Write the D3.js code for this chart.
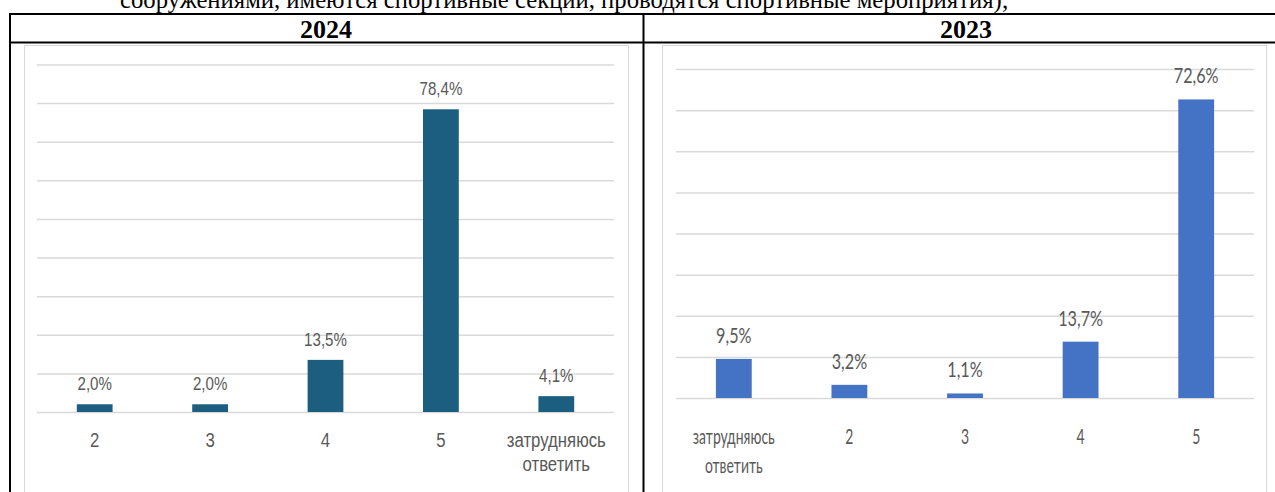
<!DOCTYPE html>
<html>
<head>
<meta charset="utf-8">
<script src="https://cdn.jsdelivr.net/npm/d3@7"></script>
<style>
  html, body { margin: 0; padding: 0; background: #fff; }
  svg { display: block; }
</style>
</head>
<body>
<svg id="page" width="1275" height="492"></svg>
<script>
// Survey answers: rating of sports infrastructure, share of respondents (%)
const categories2024 = ["2", "3", "4", "5", "затрудняюсь ответить"];
const values2024 = [2.0, 2.0, 13.5, 78.4, 4.1];

const categories2023 = ["затрудняюсь ответить", "2", "3", "4", "5"];
const values2023 = [9.5, 3.2, 1.1, 13.7, 72.6];

const yTicks2024 = [0, 10, 20, 30, 40, 50, 60, 70, 80, 90];
const yTicks2023 = [0, 10, 20, 30, 40, 50, 60, 70, 80];

const headerLine = "сооружениями, имеются спортивные секции, проводятся спортивные мероприятия);";
const years = ["2024", "2023"];

const svg = d3.select("#page");
const fmt = v => d3.format(".1f")(v).replace(".", ",") + "%";

// Sentence fragment above the table
svg.append("text")
  .attr("x", 120).attr("y", 8)
  .attr("font-family", "Liberation Serif, Times New Roman, serif")
  .attr("font-size", 24.7)
  .attr("fill", "#000")
  .text(headerLine);

// Table grid
const tableLines = [
  [9, 14, 1290, 14],
  [9, 42.5, 1290, 42.5],
  [10, 13, 10, 492],
  [643.5, 13, 643.5, 492]
];
svg.selectAll("line.table").data(tableLines).join("line")
  .attr("class", "table")
  .attr("x1", d => d[0]).attr("y1", d => d[1])
  .attr("x2", d => d[2]).attr("y2", d => d[3])
  .attr("stroke", "#000").attr("stroke-width", 2);

svg.selectAll("text.year").data(years).join("text")
  .attr("class", "year")
  .attr("x", (d, i) => i === 0 ? 326 : 966)
  .attr("y", 37.5)
  .attr("text-anchor", "middle")
  .attr("font-family", "Liberation Serif, Times New Roman, serif")
  .attr("font-weight", "bold")
  .attr("font-size", 26)
  .text(d => d);

function drawChart(opts) {
  const g = svg.append("g");

  // chart area frame
  g.append("rect")
    .attr("x", opts.frame[0] + 0.5).attr("y", 45.5)
    .attr("width", opts.frame[1] - opts.frame[0]).attr("height", 470)
    .attr("fill", "#fff").attr("stroke", "#d9d9d9");

  const x = d3.scaleBand()
    .domain(opts.categories)
    .range(opts.xRange)
    .paddingInner(0.69)
    .paddingOuter(0.345);

  const y = d3.scaleLinear()
    .domain([0, d3.max(opts.ticks)])
    .range(opts.yRange);

  // horizontal gridlines
  g.append("g")
    .attr("transform", `translate(${opts.xRange[0]},0)`)
    .call(d3.axisLeft(y).tickValues(opts.ticks)
      .tickSize(-(opts.xRange[1] - opts.xRange[0])).tickFormat(""))
    .call(a => a.select(".domain").remove())
    .call(a => a.selectAll("line").attr("stroke", "#d9d9d9").attr("stroke-width", 1.5));

  // bars
  g.selectAll("rect.bar").data(opts.values).join("rect")
    .attr("class", "bar")
    .attr("x", (d, i) => x(opts.categories[i]))
    .attr("width", x.bandwidth())
    .attr("y", d => y(d))
    .attr("height", d => y(0) - y(d))
    .attr("fill", opts.color);

  // value labels
  g.selectAll("text.val").data(opts.values).join("text")
    .attr("class", "val")
    .attr("transform", (d, i) =>
      `translate(${x(opts.categories[i]) + x.bandwidth() / 2},${y(d) - opts.labelGap}) scale(${opts.valSqueeze},1)`)
    .attr("text-anchor", "middle")
    .attr("font-family", opts.font)
    .attr("font-size", opts.valSize)
    .attr("fill", "#595959")
    .text(d => fmt(d));

  // category axis labels
  const xa = g.append("g")
    .attr("transform", `translate(0,${opts.yRange[0]})`)
    .call(d3.axisBottom(x).tickSize(0).tickFormat(""));
  xa.select(".domain").remove();

  xa.selectAll(".tick").each(function (d) {
    const words = d.split(" ");
    const t = d3.select(this).append("text")
      .attr("transform", `translate(0,${opts.tickY}) scale(${opts.tickSqueeze},1)`)
      .attr("text-anchor", "middle")
      .attr("font-family", opts.font)
      .attr("font-size", opts.tickSize)
      .attr("fill", "#595959");
    words.forEach((w, k) => {
      t.append("tspan").attr("x", 0).attr("y", k * opts.lineStep).text(w);
    });
  });
}

drawChart({
  categories: categories2024,
  values: values2024,
  ticks: yTicks2024,
  frame: [24, 628],
  xRange: [37, 614],
  yRange: [412, 64.5],
  color: "#1B5E80",
  font: "Liberation Sans, Arial, sans-serif",
  valSqueeze: 0.84,
  tickSqueeze: 0.86,
  valSize: 18,
  tickSize: 19.5,
  tickY: 35,
  lineStep: 24,
  labelGap: 14
});

drawChart({
  categories: categories2023,
  values: values2023,
  ticks: yTicks2023,
  frame: [662, 1266],
  xRange: [676, 1254],
  yRange: [398, 69],
  color: "#4472C4",
  font: "Lato, Liberation Sans, sans-serif",
  valSqueeze: 0.77,
  tickSqueeze: 0.65,
  valSize: 21,
  tickSize: 21.5,
  tickY: 46,
  lineStep: 29,
  labelGap: 16
});
</script>
</body>
</html>
